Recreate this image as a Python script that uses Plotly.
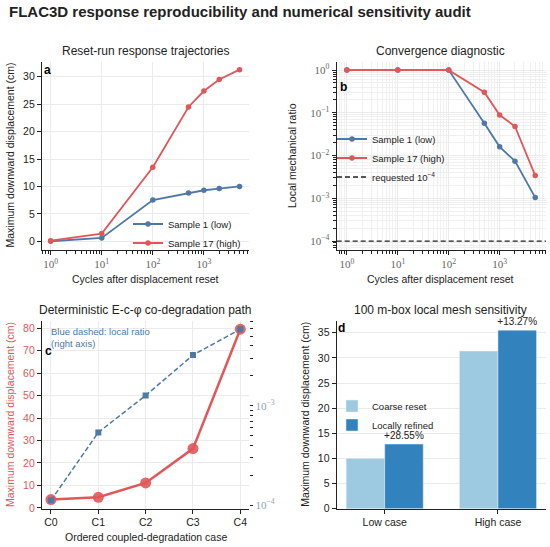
import plotly.graph_objects as go

W, H = 550, 547

# panel a / b: reset-run trajectories and convergence
cycles = [1, 10, 100, 500, 1000, 2000, 5000]
disp_low = [0.0, 0.6, 7.5, 8.8, 9.3, 9.6, 10.0]
disp_high = [0.1, 1.4, 13.5, 24.5, 27.4, 29.5, 31.3]
ratio_low = [1.0, 1.0, 1.0, 0.057, 0.016, 0.0074, 0.00104]
ratio_high = [1.0, 1.0, 1.0, 0.305, 0.089, 0.048, 0.0034]
requested_ratio = 1e-4

# panel c: coupled degradation path
cases = ["C0", "C1", "C2", "C3", "C4"]
case_disp = [3.7, 4.7, 11.1, 26.4, 79.6]
case_ratio = [1.12e-4, 5.4e-4, 1.27e-3, 3.24e-3, 5.9e-3]
ratio_ticks = [1e-4, 2e-4, 3e-4, 4e-4, 5e-4, 6e-4, 7e-4, 8e-4, 9e-4,
               1e-3, 2e-3, 3e-3, 4e-3, 5e-3, 6e-3, 7e-3]

# panel d: mesh sensitivity
mesh_cases = ["Low case", "High case"]
coarse = [10.0, 31.35]
refined = [12.855, 35.51]

BLUE = "#4e79a7"
RED = "#e15759"
LIGHT = "#9ecae1"
DARK = "#3182bd"
INK = "#222222"
GRID = "#ebebeb"
FONT = "Liberation Sans"
SERIF = "Liberation Serif"


def px(x):
    return x / W


def py(y):
    return 1 - y / H


def pow_label(e):
    s = str(e).replace("-", "\u2212")
    return "10<sup>" + s + "</sup>"


x2_range = [-0.2, 3.91]

fig = go.Figure()

# a
fig.add_trace(go.Scatter(x=cycles, y=disp_low, name="Sample 1 (low)", mode="lines+markers",
                         line=dict(color=BLUE, width=1.8), marker=dict(size=5.5),
                         xaxis="x", yaxis="y", legend="legend"))
fig.add_trace(go.Scatter(x=cycles, y=disp_high, name="Sample 17 (high)", mode="lines+markers",
                         line=dict(color=RED, width=1.8), marker=dict(size=5.5),
                         xaxis="x", yaxis="y", legend="legend"))

# b
fig.add_trace(go.Scatter(x=cycles, y=ratio_low, name="Sample 1 (low)", mode="lines+markers",
                         line=dict(color=BLUE, width=1.8), marker=dict(size=5.5),
                         xaxis="x2", yaxis="y2", legend="legend2"))
fig.add_trace(go.Scatter(x=cycles, y=ratio_high, name="Sample 17 (high)", mode="lines+markers",
                         line=dict(color=RED, width=1.8), marker=dict(size=5.5),
                         xaxis="x2", yaxis="y2", legend="legend2"))
fig.add_trace(go.Scatter(x=[10 ** x2_range[0], 10 ** x2_range[1]], y=[requested_ratio] * 2,
                         name="requested 10<sup>\u22124</sup>", mode="lines",
                         line=dict(color=INK, width=1.3, dash="5px,3px"),
                         xaxis="x2", yaxis="y2", legend="legend2"))

# c
fig.add_trace(go.Scatter(x=cases, y=case_disp, mode="lines+markers", showlegend=False,
                         line=dict(color=RED, width=2.5),
                         marker=dict(size=11, color=RED, opacity=0.9),
                         xaxis="x3", yaxis="y3"))
fig.add_trace(go.Scatter(x=cases, y=case_ratio, mode="lines+markers", showlegend=False,
                         line=dict(color=BLUE, width=1.5, dash="5px,2.5px"),
                         marker=dict(size=6, symbol="square", color=BLUE),
                         xaxis="x3", yaxis="y4"))

# d
pct = ["+%.2f%%" % ((r / c - 1) * 100) for r, c in zip(refined, coarse)]
fig.add_trace(go.Bar(x=mesh_cases, y=coarse, name="Coarse reset", marker_color=LIGHT,
                     xaxis="x4", yaxis="y5", legend="legend3"))
fig.add_trace(go.Bar(x=mesh_cases, y=refined, name="Locally refined", marker_color=DARK,
                     text=pct, textposition="outside", cliponaxis=False, constraintext="none",
                     textfont=dict(size=10, color=INK),
                     xaxis="x4", yaxis="y5", legend="legend3"))

axis_common = dict(showline=True, linecolor=INK, linewidth=1.2, ticks="outside", ticklen=4,
                   tickcolor=INK, gridcolor=GRID, zeroline=False, automargin=False,
                   tickfont=dict(size=10.5, color=INK, family=FONT))
log_font = dict(size=11, color="#666666", family=SERIF)
minor_ticks = dict(ticks="outside", ticklen=2.5, tickcolor=INK, dtick="D1")
minor_grid = dict(minor_ticks, showgrid=True, gridcolor="#f0f0f0")

top_row = [py(250), py(62)]
bot_row = [py(508.5), py(320.7)]
left_col = [px(42), px(249.3)]
right_col = [px(336.7), px(546)]

legend_common = dict(xanchor="left", yanchor="top", bgcolor="rgba(0,0,0,0)",
                     font=dict(size=9.5, color=INK), tracegroupgap=0, itemwidth=30)

fig.update_layout(
    width=W, height=H,
    margin=dict(l=0, r=0, t=0, b=0),
    paper_bgcolor="white", plot_bgcolor="white",
    font=dict(family=FONT, color=INK),
    barmode="group", bargap=0.32, bargroupgap=0,
    xaxis=dict(axis_common, domain=left_col, anchor="y", type="log", range=[-0.17, 3.89],
               tickvals=[1, 10, 100, 1000], ticktext=[pow_label(e) for e in range(4)],
               tickfont=log_font, minor=minor_ticks),
    yaxis=dict(axis_common, domain=top_row, anchor="x", range=[-1.6, 32.7], dtick=5),
    xaxis2=dict(axis_common, domain=right_col, anchor="y2", type="log", range=x2_range,
                tickvals=[1, 10, 100, 1000], ticktext=[pow_label(e) for e in range(4)],
                tickfont=log_font, minor=minor_grid),
    yaxis2=dict(axis_common, domain=top_row, anchor="x2", type="log", range=[-4.21, 0.19],
                tickvals=[1e-4, 1e-3, 1e-2, 1e-1, 1],
                ticktext=[pow_label(e) for e in range(-4, 1)],
                tickfont=log_font, minor=minor_grid),
    xaxis3=dict(axis_common, domain=left_col, anchor="y3", type="category", range=[-0.19, 4.19]),
    yaxis3=dict(axis_common, domain=bot_row, anchor="x3", range=[-0.3, 83.4], dtick=10,
                tickfont=dict(size=10.5, color=RED, family=FONT)),
    yaxis4=dict(overlaying="y3", side="right", anchor="x3", type="log", range=[-4.033, -2.144],
                showline=False, showgrid=False, zeroline=False, ticks="outside", ticklen=3,
                tickcolor=INK, tickvals=ratio_ticks, automargin=False,
                ticktext=[pow_label(-4) if v == 1e-4 else pow_label(-3) if v == 1e-3 else ""
                          for v in ratio_ticks],
                tickfont=dict(size=11, color="#8fa3bd", family=SERIF)),
    xaxis4=dict(axis_common, domain=right_col, anchor="y5", type="category",
                range=[-0.424, 1.424], showgrid=False),
    yaxis5=dict(axis_common, domain=[py(508.7), py(320.7)], anchor="x4", range=[0, 37.4],
                dtick=5),
    legend=dict(legend_common, x=px(128), y=py(209.5)),
    legend2=dict(legend_common, x=px(332), y=py(124.5)),
    legend3=dict(legend_common, x=px(332), y=py(391.5)),
)

notes = [
    # text, x, y, size, color, bold, angle, xanchor
    ("FLAC3D response reproducibility and numerical sensitivity audit", 7, 11, 15, INK, True, 0, "left"),
    ("Reset-run response trajectories", 145.5, 51, 12, INK, False, 0, "center"),
    ("Convergence diagnostic", 441, 51, 12, INK, False, 0, "center"),
    ("Deterministic E-c-\u03c6 co-degradation path", 145.5, 310, 12, INK, False, 0, "center"),
    ("100 m-box local mesh sensitivity", 441, 310, 12, INK, False, 0, "center"),
    ("Cycles after displacement reset", 145.5, 279, 10.5, INK, False, 0, "center"),
    ("Cycles after displacement reset", 441, 279, 10.5, INK, False, 0, "center"),
    ("Ordered coupled-degradation case", 145.5, 537, 10.5, INK, False, 0, "center"),
    ("Maximum downward displacement (cm)", 9.5, 155, 10.5, INK, False, -90, "center"),
    ("Local mechanical ratio", 292, 156, 10.5, INK, False, -90, "center"),
    ("Maximum downward displacement (cm)", 9.5, 414.5, 10.5, RED, False, -90, "center"),
    ("Maximum downward displacement (cm)", 305, 414.7, 10.5, INK, False, -90, "center"),
    ("a", 47, 70, 12, "black", True, 0, "center"),
    ("b", 343, 87, 12, "black", True, 0, "center"),
    ("c", 48, 351, 12, "black", True, 0, "center"),
    ("d", 341, 328, 12, "black", True, 0, "center"),
    ("Blue dashed: local ratio<br>(right axis)", 49, 337, 9.5, BLUE, False, 0, "left"),
]
for text, x, y, size, color, bold, angle, xanchor in notes:
    fig.add_annotation(text="<b>%s</b>" % text if bold else text, x=px(x), y=py(y),
                       xref="paper", yref="paper", xanchor=xanchor, yanchor="middle",
                       align="left", textangle=angle, showarrow=False,
                       font=dict(size=size, color=color, family=FONT))

# drop the browser's default body margin so the figure sits at the page corner
fig.write_html("out.html", config={"displayModeBar": False},
               post_script="document.body.style.margin = '0px';")
